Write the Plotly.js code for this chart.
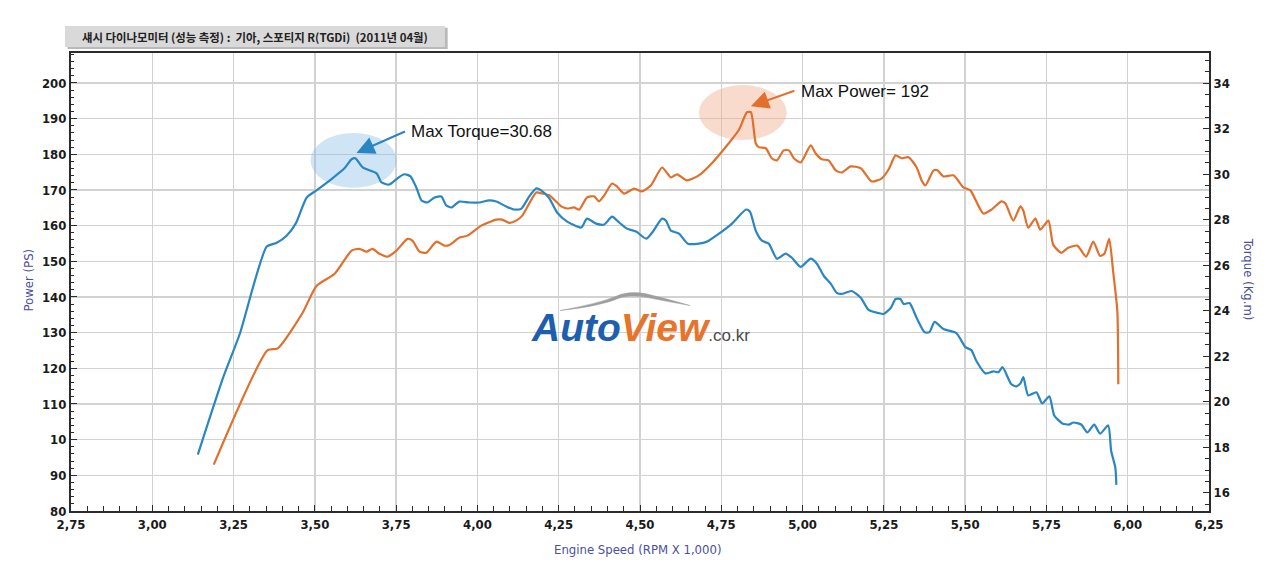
<!DOCTYPE html>
<html>
<head>
<meta charset="utf-8">
<script src="https://cdn.plot.ly/plotly-3.0.1.min.js"></script>
<style>
  html, body { margin: 0; padding: 0; background: #fff; }
  #dyno { width: 1280px; height: 585px; }
</style>
</head>
<body>
<div id="dyno"></div>
<script>
// Chassis dyno run, Kia Sportage R (TGDi), April 2011
// values

var powerRpm = [3.189, 3.355, 3.386, 3.462, 3.505, 3.561, 3.613, 3.637, 3.659, 3.677,
  3.699, 3.723, 3.751, 3.785, 3.800, 3.822, 3.843, 3.874, 3.898, 3.914,
  3.944, 3.969, 4.012, 4.058, 4.076, 4.098, 4.119, 4.138, 4.181, 4.199,
  4.221, 4.258, 4.276, 4.297, 4.313, 4.337, 4.359, 4.374, 4.390, 4.414,
  4.429, 4.451, 4.482, 4.506, 4.534, 4.568, 4.595, 4.614, 4.644, 4.681,
  4.721, 4.773, 4.804, 4.829, 4.841, 4.856, 4.865, 4.887, 4.905, 4.921,
  4.942, 4.958, 4.973, 4.994, 5.025, 5.040, 5.059, 5.080, 5.102, 5.120,
  5.148, 5.179, 5.212, 5.243, 5.265, 5.286, 5.304, 5.326, 5.351, 5.366,
  5.378, 5.403, 5.415, 5.433, 5.464, 5.495, 5.516, 5.556, 5.581, 5.612,
  5.624, 5.648, 5.670, 5.679, 5.694, 5.716, 5.731, 5.756, 5.771, 5.796,
  5.817, 5.845, 5.872, 5.894, 5.915, 5.928, 5.943, 5.955, 5.968, 5.971];

var powerPs = [93.0, 125.1, 125.6, 135.5, 143.1, 146.5, 153.0, 153.5, 152.7, 153.5,
  152.1, 151.3, 153.0, 156.3, 155.8, 152.7, 152.4, 155.5, 154.4, 154.6,
  156.6, 157.2, 160.0, 161.7, 161.7, 160.8, 161.4, 162.8, 169.3, 169.0,
  168.5, 165.4, 164.8, 165.1, 164.5, 167.9, 168.2, 166.8, 168.5, 171.8,
  171.0, 169.0, 170.4, 169.6, 171.3, 176.3, 173.5, 174.4, 172.7, 174.1,
  177.5, 183.1, 186.8, 191.8, 191.8, 183.1, 182.0, 181.7, 178.9, 178.3,
  181.1, 181.1, 178.9, 177.7, 182.5, 180.3, 178.6, 178.3, 175.5, 174.9,
  176.6, 176.1, 172.4, 173.2, 175.8, 179.7, 178.9, 179.2, 176.3, 172.7,
  171.3, 175.5, 175.5, 173.8, 174.1, 170.7, 169.9, 163.4, 164.5, 166.8,
  166.2, 161.4, 165.4, 164.2, 159.4, 162.0, 158.9, 161.4, 154.6, 152.4,
  153.8, 154.4, 151.3, 155.5, 151.5, 152.1, 156.3, 147.3, 136.1, 115.5];

var torqueRpm = [3.140, 3.217, 3.269, 3.352, 3.383, 3.413, 3.441, 3.475, 3.505, 3.554,
  3.591, 3.613, 3.625, 3.647, 3.690, 3.705, 3.729, 3.754, 3.775, 3.794,
  3.812, 3.828, 3.846, 3.868, 3.889, 3.904, 3.920, 3.944, 3.975, 4.006,
  4.036, 4.058, 4.089, 4.113, 4.135, 4.159, 4.181, 4.196, 4.221, 4.245,
  4.276, 4.319, 4.337, 4.365, 4.390, 4.414, 4.436, 4.460, 4.488, 4.519,
  4.537, 4.568, 4.580, 4.595, 4.620, 4.647, 4.681, 4.706, 4.743, 4.783,
  4.826, 4.838, 4.856, 4.875, 4.896, 4.921, 4.948, 4.967, 4.994, 5.025,
  5.044, 5.065, 5.087, 5.105, 5.120, 5.151, 5.179, 5.203, 5.234, 5.249,
  5.271, 5.286, 5.301, 5.311, 5.329, 5.351, 5.375, 5.390, 5.406, 5.433,
  5.473, 5.501, 5.519, 5.535, 5.562, 5.587, 5.602, 5.615, 5.642, 5.658,
  5.670, 5.679, 5.694, 5.719, 5.737, 5.759, 5.774, 5.799, 5.820, 5.833,
  5.857, 5.876, 5.897, 5.915, 5.940, 5.949, 5.962, 5.965];

var torqueKgm = [17.68, 21.03, 22.98, 26.82, 26.99, 27.30, 27.83, 28.98, 29.29, 29.82,
  30.26, 30.66, 30.70, 30.30, 30.04, 29.64, 29.55, 29.82, 30.00, 29.91,
  29.42, 28.85, 28.76, 28.98, 29.02, 28.63, 28.54, 28.80, 28.76, 28.76,
  28.85, 28.80, 28.58, 28.45, 28.49, 29.02, 29.38, 29.29, 28.94, 28.32,
  27.92, 27.66, 28.05, 27.83, 27.79, 28.14, 27.88, 27.61, 27.48, 27.17,
  27.43, 28.05, 27.96, 27.52, 27.39, 26.95, 26.95, 27.04, 27.39, 27.83,
  28.45, 28.36, 27.52, 27.08, 26.95, 26.29, 26.51, 26.33, 25.93, 26.29,
  26.07, 25.54, 25.18, 24.79, 24.74, 24.87, 24.57, 24.04, 23.90, 23.86,
  24.12, 24.52, 24.52, 24.30, 24.34, 23.68, 23.06, 23.06, 23.51, 23.20,
  23.02, 22.40, 22.27, 21.78, 21.25, 21.34, 21.30, 21.52, 20.77, 20.68,
  20.81, 21.08, 20.28, 20.42, 19.93, 20.24, 19.40, 19.05, 19.00, 19.09,
  19.00, 18.65, 19.00, 18.60, 18.96, 17.85, 17.10, 16.35];

// axis ticks (the original chart prints "10" where 100 should be)
var rpmTicks = [2.75, 3.00, 3.25, 3.50, 3.75, 4.00, 4.25, 4.50, 4.75, 5.00, 5.25, 5.50, 5.75, 6.00, 6.25];
var psTicks = [80, 90, 100, 110, 120, 130, 140, 150, 160, 170, 180, 190, 200];
var psTickText = ["80", "90", "10", "110", "120", "130", "140", "150", "160", "170", "180", "190", "200"];
var kgmTicks = [16, 18, 20, 22, 24, 26, 28, 30, 32, 34];

var maxTorqueLabel = "Max Torque=30.68";
var maxPowerLabel = "Max Power= 192";
var chartTitle = "섀시 다이나모미터 (성능 측정) :  기아, 스포티지 R(TGDi)  (2011년 04월)";

const ORANGE = "#e26f2b",
  BLUE = "#2a86c2",
  GRID = "#d2d2d2",
  AXIS = "#2b2b2b",
  TITLE_BLUE = "#4a4fa0";

var tickFont = {family: "Liberation Sans Narrow, DejaVu Sans Condensed, sans-serif", size: 13, color: "#1a1a1a", weight: "bold"};
var noteFont = {family: "Liberation Sans, Arial, sans-serif", size: 17, color: "#111"};
var axTitleFont = {family: "Liberation Sans Narrow, DejaVu Sans Condensed, sans-serif", size: 13, color: TITLE_BLUE};

var power = {
  x: powerRpm, y: powerPs, yaxis: "y",
  mode: "lines", type: "scatter",
  line: {color: ORANGE, width: 2.2, shape: "spline", smoothing: 0.6}
};

var torque = {
  x: torqueRpm, y: torqueKgm, yaxis: "y2",
  mode: "lines", type: "scatter",
  line: {color: BLUE, width: 2.2, shape: "spline", smoothing: 0.6}
};

var layout = {
  width: 1280, height: 585,
  margin: {l: 71, r: 71, t: 53, b: 74},
  paper_bgcolor: "#fff", plot_bgcolor: "#fff",
  showlegend: false, hovermode: false,
  separators: ",.",
  xaxis: {
    range: [2.75, 6.25],
    tickvals: rpmTicks, tickformat: ".2f",
    showgrid: true, gridcolor: GRID, gridwidth: 1.5,
    showline: true, linecolor: AXIS, linewidth: 2, mirror: true,
    ticks: "inside", ticklen: 6, tickcolor: AXIS,
    minor: {tickmode: "linear", tick0: 2.75, dtick: 0.05, ticks: "inside", ticklen: 5, tickcolor: AXIS, showgrid: false},
    tickfont: tickFont, zeroline: false
  },
  yaxis: {
    range: [80, 208.4],
    tickmode: "array", tickvals: psTicks, ticktext: psTickText,
    showgrid: true, gridcolor: GRID, gridwidth: 1.5,
    showline: true, linecolor: AXIS, linewidth: 2,
    ticks: "inside", ticklen: 6, tickcolor: AXIS,
    minor: {tickmode: "linear", tick0: 80, dtick: 2, ticks: "inside", ticklen: 3, tickcolor: AXIS, showgrid: false},
    tickfont: tickFont, zeroline: false
  },
  yaxis2: {
    range: [15.2, 35.33], overlaying: "y", side: "right",
    tickmode: "array", tickvals: kgmTicks,
    showgrid: false,
    showline: true, linecolor: AXIS, linewidth: 2,
    ticks: "inside", ticklen: 6, tickcolor: AXIS,
    minor: {tickmode: "linear", tick0: 16, dtick: 0.5, ticks: "inside", ticklen: 4, tickcolor: AXIS},
    tickfont: tickFont, zeroline: false
  },
  shapes: [
    // highlight blobs behind the peaks
    {type: "circle", xref: "x", yref: "y", x0: 3.487, x1: 3.751, y0: 170.6, y1: 186.0,
      fillcolor: "rgba(130,185,225,0.38)", line: {width: 0}, layer: "between"},
    {type: "circle", xref: "x", yref: "y", x0: 4.681, x1: 4.951, y0: 184.0, y1: 199.4,
      fillcolor: "rgba(238,170,135,0.42)", line: {width: 0}, layer: "between"},
    // title tab
    {type: "rect", xref: "paper", yref: "paper", x0: -0.003, x1: 0.331, y0: 1.009, y1: 1.055,
      fillcolor: "#b9b9b9", line: {width: 0}},
    {type: "rect", xref: "paper", yref: "paper", x0: -0.0053, x1: 0.3286, y0: 1.0131, y1: 1.059,
      fillcolor: "#d9d9d9", line: {width: 0}},
    // logo swoosh
    {type: "path", xref: "paper", yref: "paper", layer: "above",
      path: "M 0.4297 0.4376 Q 0.4649 0.4540 0.4780 0.4680 Q 0.4895 0.4810 0.5044 0.4748 " +
        "Q 0.5264 0.4617 0.5439 0.4486 Q 0.5246 0.4570 0.5044 0.4670 Q 0.4895 0.4735 0.4807 0.4640 " +
        "Q 0.4649 0.4470 0.4297 0.4376 Z",
      fillcolor: "#9e9e9e", line: {color: "#9e9e9e", width: 0.5}}
  ],
  annotations: [
    {xref: "paper", yref: "paper", x: 0.1617, y: 1.036, xanchor: "center", yanchor: "middle", showarrow: false,
      text: chartTitle, font: {family: "Noto Sans CJK KR, sans-serif", size: 11.4, color: "#222", weight: "bold"}},
    {xref: "paper", yref: "paper", x: -0.0378, y: 0.5055, xanchor: "center", yanchor: "middle", showarrow: false, textangle: -90,
      text: "Power (PS)", font: axTitleFont},
    {xref: "paper", yref: "paper", x: 1.035, y: 0.5055, xanchor: "center", yanchor: "middle", showarrow: false, textangle: 90,
      text: "Torque (Kg.m)", font: axTitleFont},
    {xref: "paper", yref: "paper", x: 0.498, y: -0.083, xanchor: "center", yanchor: "middle", showarrow: false,
      text: "Engine Speed (RPM X 1,000)", font: axTitleFont},
    // arrows to the peaks
    {xref: "x", yref: "y2", x: 3.628, y: 30.94, ax: 50, ay: -22, text: "",
      showarrow: true, arrowhead: 2, arrowsize: 1.8, arrowwidth: 2, arrowcolor: BLUE, standoff: 0},
    {xref: "x", yref: "y", x: 4.841, y: 193.5, ax: 45, ay: -16, text: "",
      showarrow: true, arrowhead: 2, arrowsize: 1.8, arrowwidth: 2, arrowcolor: ORANGE, standoff: 0},
    {xref: "x", yref: "y", x: 3.788, y: 186.3, xanchor: "left", yanchor: "middle", showarrow: false,
      text: maxTorqueLabel, font: noteFont},
    {xref: "x", yref: "y", x: 4.988, y: 197.7, xanchor: "left", yanchor: "middle", showarrow: false,
      text: maxPowerLabel, font: noteFont},
    // site logo
    {xref: "paper", yref: "paper", x: 0.5, y: 0.400, xanchor: "center", yanchor: "middle", showarrow: false,
      text: "<b><i><span style='color:#1d5fae'>Auto</span><span style='color:#e8732a'>View</span></i></b>" +
        "<span style='font-size:17px;color:#4a4a4a'>.co.kr</span>",
      font: {family: "Liberation Sans, Arial, sans-serif", size: 39}}
  ]
};

Plotly.newPlot("dyno", [power, torque], layout, {displayModeBar: false, staticPlot: true});
</script>
</body>
</html>
